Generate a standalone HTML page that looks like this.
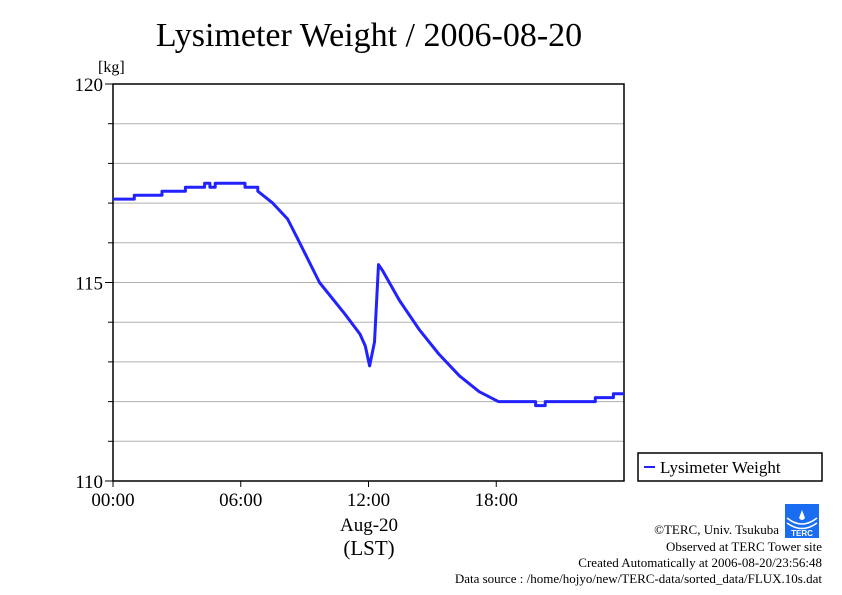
<!DOCTYPE html>
<html><head><meta charset="utf-8"><style>
body{margin:0;background:#fff;width:842px;height:595px;overflow:hidden;font-family:"Liberation Serif",serif}
</style></head><body>
<svg width="842" height="595" style="position:absolute;left:0;top:0">
<text x="369" y="46" font-size="34" text-anchor="middle">Lysimeter Weight / 2006-08-20</text>
<text x="98" y="72" font-size="16">[kg]</text>
<g id="grid"></g>
<rect x="113" y="84" width="511" height="397" fill="none" stroke="#000" stroke-width="1.5"/>
<g id="ticks"></g>
<path id="series" fill="none" stroke="#2222ff" stroke-width="3" stroke-linejoin="round"/>
<g id="dots"></g>
<text x="369" y="531" font-size="19" text-anchor="middle">Aug-20</text>
<text x="369" y="555" font-size="21" text-anchor="middle">(LST)</text>
<g>
<rect x="638" y="453" width="184" height="28" fill="#fff" stroke="#000" stroke-width="1.5"/>
<line x1="644" y1="467" x2="655" y2="467" stroke="#2222ff" stroke-width="2"/>
<text x="660" y="473" font-size="17">Lysimeter Weight</text>
</g>
<g>
<rect x="785" y="504" width="34" height="34" fill="#1a6cf0"/>
<path d="M787 518 Q802 530 817 518" stroke="#fff" fill="none" stroke-width="1.5"/>
<path d="M787 523 Q802 534 817 523" stroke="#fff" fill="none" stroke-width="1.5"/>
<path d="M802 510 L799 518 Q802 522 805 518 Z" fill="#fff"/>
<text x="802" y="536" font-size="8" fill="#fff" text-anchor="middle" font-family="Liberation Sans,sans-serif" font-weight="bold">TERC</text>
</g>
<g font-size="13" text-anchor="end">
<text x="779" y="534">©TERC, Univ. Tsukuba</text>
<text x="822" y="551">Observed at TERC Tower site</text>
<text x="822" y="567">Created Automatically at 2006-08-20/23:56:48</text>
<text x="822" y="583">Data source : /home/hojyo/new/TERC-data/sorted_data/FLUX.10s.dat</text>
</g>
</svg>
<script>
const xTickLabels=["00:00","06:00","12:00","18:00"];
const xTickHours=[0,6,12,18];
const yTickValues=[110,115,120];
const hours=[0,1.0,1.0,2.3,2.3,3.4,3.4,4.3,4.3,4.55,4.55,4.8,4.8,6.0,6.2,6.2,6.8,6.8,7.5,8.2,8.77,9.7,10.9,11.6,11.85,12.05,12.28,12.47,12.66,13.45,14.4,15.3,16.27,17.2,18.1,19.85,19.85,20.3,20.3,22.65,22.65,23.5,23.5,24];
const weights=[117.1,117.1,117.2,117.2,117.3,117.3,117.4,117.4,117.5,117.5,117.4,117.4,117.5,117.5,117.5,117.4,117.4,117.3,117.0,116.6,116.0,115.0,114.2,113.7,113.4,112.9,113.5,115.45,115.3,114.55,113.8,113.2,112.65,112.25,112.0,112.0,111.9,111.9,112.0,112.0,112.1,112.1,112.2,112.2];
const X0=113,X1=624,Y0=481,Y1=84;
const xs=h=>X0+h*(X1-X0)/24;
const ys=v=>Y0-(v-110)*(Y0-Y1)/10;
const NS="http://www.w3.org/2000/svg";
function mk(t,a,p){const e=document.createElementNS(NS,t);for(const k in a)e.setAttribute(k,a[k]);p.appendChild(e);return e;}
const grid=document.getElementById('grid'),ticks=document.getElementById('ticks');
for(let v=111;v<120;v++){
 const g=mk('line',{x1:X0,x2:X1,y1:ys(v),y2:ys(v),stroke:'#b0b0b0','stroke-width':1},grid);
 
 
 const t=mk('line',{x1:X0-5,x2:X0,y1:ys(v),y2:ys(v),stroke:'#000'},ticks);
 
 
}
yTickValues.forEach(v=>{
 const t=mk('text',{x:X0-10,y:ys(v)+7,'font-size':19,'text-anchor':'end'},ticks);
 t.textContent=v;
 
 
 mk('line',{x1:X0-8,x2:X0,y1:ys(v),y2:ys(v),stroke:'#000'},ticks);
});
xTickHours.forEach((h,i)=>{
 const t=mk('text',{x:xs(h),y:Y0+25,'font-size':19,'text-anchor':'middle'},ticks);
 t.textContent=xTickLabels[i];
 
 
 mk('line',{x1:xs(h),x2:xs(h),y1:Y0,y2:Y0+6,stroke:'#000'},ticks);
});
let d='';
hours.forEach((h,i)=>{d+=(i?'L':'M')+xs(h).toFixed(1)+' '+ys(weights[i]).toFixed(1);});
document.getElementById('series').setAttribute('d',d);
</script>
</body></html>
